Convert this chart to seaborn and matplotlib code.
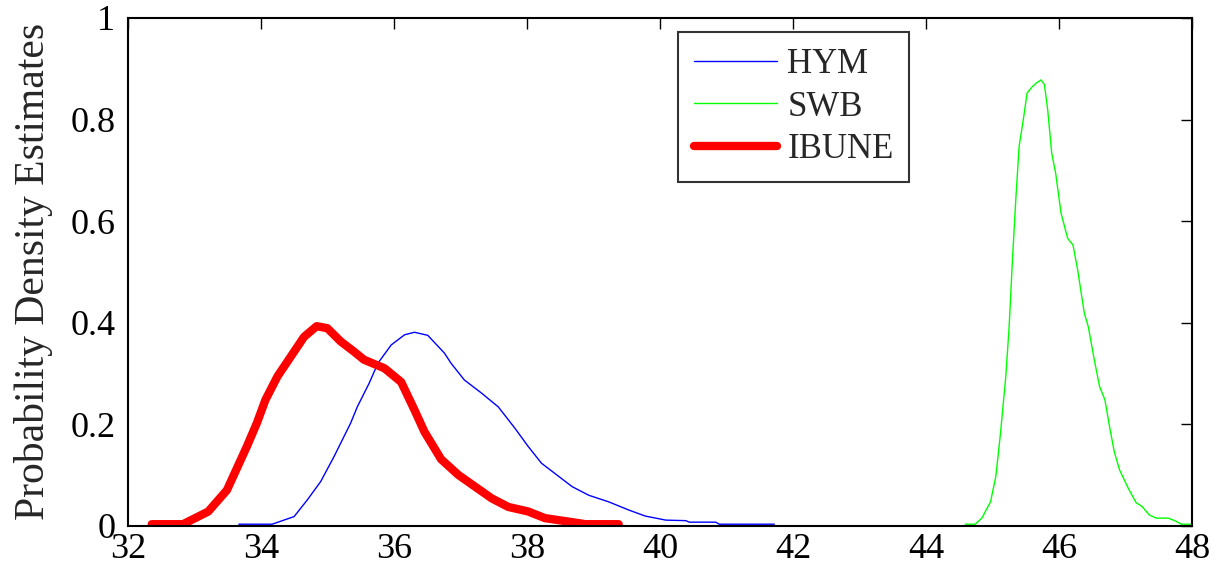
import numpy as np
import pandas as pd
import matplotlib
matplotlib.use("Agg")
import matplotlib.pyplot as plt
import seaborn as sns

# curve points
hym_x = [33.67, 34.17, 34.50, 34.70, 34.90, 35.10, 35.35, 35.45, 35.63, 35.76, 35.96, 36.16,
         36.31, 36.51, 36.76, 36.86, 37.06, 37.32, 37.57, 37.82, 38.02, 38.22, 38.42, 38.68,
         38.93, 39.23, 39.53, 39.78, 40.09, 40.39, 40.44, 40.84, 40.89, 41.72]
hym_y = [0.003, 0.003, 0.018, 0.051, 0.087, 0.136, 0.202, 0.234, 0.281, 0.320, 0.356, 0.376,
         0.381, 0.375, 0.340, 0.320, 0.287, 0.261, 0.234, 0.192, 0.156, 0.123, 0.103, 0.077,
         0.060, 0.047, 0.031, 0.019, 0.011, 0.010, 0.007, 0.007, 0.003, 0.003]

swb_x = [44.59, 44.74, 44.84, 44.97, 45.05, 45.12, 45.20, 45.25, 45.30, 45.35, 45.40, 45.47,
         45.52, 45.60, 45.66, 45.73, 45.78, 45.83, 45.89, 45.95, 46.03, 46.13, 46.21, 46.28,
         46.38, 46.44, 46.53, 46.61, 46.69, 46.76, 46.83, 46.91, 47.04, 47.16, 47.24, 47.36,
         47.46, 47.64, 47.74, 47.84, 48.0]
swb_y = [0.003, 0.003, 0.015, 0.047, 0.097, 0.182, 0.294, 0.392, 0.524, 0.642, 0.747, 0.806,
         0.852, 0.865, 0.872, 0.878, 0.869, 0.819, 0.734, 0.694, 0.616, 0.566, 0.553, 0.504,
         0.419, 0.392, 0.327, 0.274, 0.248, 0.195, 0.146, 0.110, 0.074, 0.045, 0.039, 0.021,
         0.015, 0.015, 0.010, 0.003, 0.003]

ibune_x = [32.36, 32.83, 33.21, 33.49, 33.64, 33.79, 33.94, 34.07, 34.25, 34.45, 34.65, 34.84,
           35.00, 35.20, 35.40, 35.55, 35.86, 36.11, 36.31, 36.46, 36.71, 36.97, 37.22, 37.47,
           37.72, 38.02, 38.27, 38.63, 38.88, 39.38]
ibune_y = [0.003, 0.003, 0.028, 0.070, 0.113, 0.156, 0.202, 0.248, 0.294, 0.333, 0.372, 0.393,
           0.389, 0.363, 0.343, 0.327, 0.310, 0.283, 0.228, 0.185, 0.131, 0.100, 0.077, 0.054,
           0.037, 0.028, 0.015, 0.008, 0.003, 0.003]

x_ticks = [32, 34, 36, 38, 40, 42, 44, 46, 48]
y_ticks = [0, 0.2, 0.4, 0.6, 0.8, 1]
y_labels = ["0", "0.2", "0.4", "0.6", "0.8", "1"]

sns.set_style("white")
plt.rcParams['font.family'] = ['Liberation Serif', 'DejaVu Serif']

fig = plt.figure(figsize=(12.17, 5.71), dpi=100)
ax = fig.add_axes([0.105, 0.0793, 0.8745, 0.8892])

series = [("HYM", hym_x, hym_y, "#0000ff", 1.0),
          ("SWB", swb_x, swb_y, "#00ff00", 1.0),
          ("IBUNE", ibune_x, ibune_y, "#ff0000", 6.0)]
for name, xs, ys, col, lw in series:
    df = pd.DataFrame({"x": xs, "y": ys})
    sns.lineplot(data=df, x="x", y="y", ax=ax, color=col, linewidth=lw,
                 label=name, solid_capstyle="round", sort=False)

ax.set_xlim(32, 48)
ax.set_ylim(0, 1)
ax.set_xticks(x_ticks)
ax.set_yticks(y_ticks)
ax.set_yticklabels(y_labels)
ax.set_xlabel("")
ax.set_ylabel("Probability Density Estimates", fontsize=30, labelpad=12)
ax.tick_params(direction="in", length=8, width=1, labelsize=26, colors="black",
               top=True, right=True)
ax.tick_params(axis="x", pad=5)
ax.tick_params(axis="y", pad=9)
for sp in ax.spines.values():
    sp.set_color("black")
    sp.set_linewidth(1.5)

leg = ax.legend(loc="upper left", bbox_to_anchor=(0.517, 0.972), fontsize=25,
                frameon=True, fancybox=False, handlelength=2.4, borderpad=0.45,
                labelspacing=0.28, handletextpad=0.3, borderaxespad=0)
leg.get_frame().set_edgecolor("black")
leg.get_frame().set_linewidth(1.5)

fig.savefig("out.png", dpi=100)
